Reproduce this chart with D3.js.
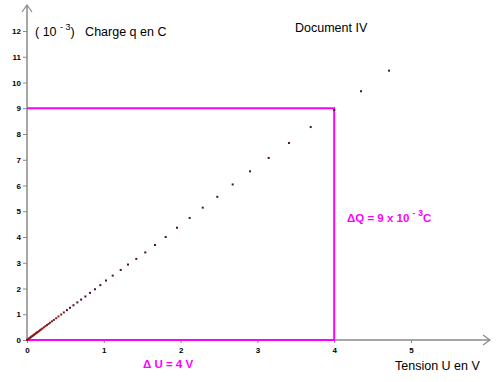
<!DOCTYPE html>
<html>
<head>
<meta charset="utf-8">
<script src="https://cdn.jsdelivr.net/npm/d3@7"></script>
<style>
  body { margin: 0; background: #fff; }
  svg { display: block; font-family: "Liberation Sans", Arial, sans-serif; }
  text { white-space: pre; }
  .tick text { font-size: 8px; font-weight: bold; fill: #000; }
</style>
</head>
<body>
<div id="vis"></div>
<script>
// measured points: tension U (V) and charge q (10^-3 C)
const tension = [0, 0.01, 0.02, 0.03, 0.04, 0.05, 0.06, 0.07, 0.08, 0.09, 0.10, 0.11, 0.12, 0.13, 0.14,
  0.155, 0.17, 0.185, 0.20, 0.22, 0.24, 0.26, 0.28, 0.30, 0.325, 0.35, 0.38, 0.41, 0.445, 0.48,
  0.52, 0.56, 0.605, 0.655, 0.705, 0.76, 0.82, 0.885, 0.955, 1.029, 1.116, 1.22, 1.315, 1.423,
  1.54, 1.667, 1.806, 1.953, 2.118, 2.288, 2.478, 2.678, 2.904, 3.147, 3.411, 3.694, 4.0, 4.349, 4.714]
const charge = [0, 0.02, 0.045, 0.07, 0.09, 0.11, 0.135, 0.155, 0.18, 0.2, 0.225, 0.245, 0.27, 0.29, 0.31,
  0.345, 0.38, 0.41, 0.445, 0.49, 0.535, 0.58, 0.625, 0.67, 0.725, 0.78, 0.845, 0.915, 0.99, 1.07,
  1.16, 1.25, 1.35, 1.46, 1.57, 1.69, 1.83, 1.97, 2.13, 2.31, 2.5, 2.72, 2.93, 3.15,
  3.4, 3.69, 4.0, 4.36, 4.74, 5.14, 5.56, 6.04, 6.55, 7.07, 7.65, 8.27, 8.93, 9.66, 10.46]
const xTicks = [0, 1, 2, 3, 4, 5]
const yTicks = [0, 1, 2, 3, 4, 5, 6, 7, 8, 9, 10, 11, 12]
const deltaU = 4
const deltaQ = 9

const width = 497, height = 382
const svg = d3.select('#vis').append('svg')
    .attr('width', width)
    .attr('height', height)

const xScale = d3.scaleLinear().domain([0, 5]).range([27, 411])
const yScale = d3.scaleLinear().domain([0, 12]).range([340, 31])

const axisColor = '#8a8a8a'
const magenta = '#ff00ff'

// x axis
const xAxis = svg.append('g')
    .attr('transform', `translate(0,${yScale(0)})`)
    .call(d3.axisBottom(xScale).tickValues(xTicks).tickSize(3).tickPadding(4).tickFormat(d3.format('d')))
xAxis.select('.domain').remove()
xAxis.selectAll('.tick line').attr('stroke', axisColor)
svg.append('line')
    .attr('x1', xScale(0)).attr('x2', 490)
    .attr('y1', yScale(0)).attr('y2', yScale(0))
    .attr('stroke', axisColor).attr('stroke-width', 1.5)
svg.append('path')
    .attr('d', `M483,335 L490,340 L483,345`)
    .attr('fill', 'none').attr('stroke', axisColor).attr('stroke-width', 1.2)

// y axis
const yAxis = svg.append('g')
    .attr('transform', `translate(${xScale(0)},0)`)
    .call(d3.axisLeft(yScale).tickValues(yTicks).tickSize(4).tickPadding(2).tickFormat(d3.format('d')))
yAxis.select('.domain').remove()
yAxis.selectAll('.tick line').attr('stroke', axisColor)
svg.append('line')
    .attr('x1', xScale(0)).attr('x2', xScale(0))
    .attr('y1', yScale(0)).attr('y2', 5)
    .attr('stroke', axisColor).attr('stroke-width', 1.5)
svg.append('path')
    .attr('d', `M22,12 L27,5 L32,12`)
    .attr('fill', 'none').attr('stroke', axisColor).attr('stroke-width', 1.2)

// magenta construction lines
svg.append('path')
    .attr('d', `M${xScale(0)},${yScale(deltaQ)} H${xScale(deltaU)} V${yScale(0)} H${xScale(0)}`)
    .attr('fill', 'none')
    .attr('stroke', magenta)
    .attr('stroke-width', 2)

// points
svg.selectAll('.pt')
    .data(tension.map((u, i) => ({u, q: charge[i]})))
    .join('rect')
    .attr('class', 'pt')
    .attr('x', d => xScale(d.u) - 1)
    .attr('y', d => yScale(d.q) - 1)
    .attr('width', 2)
    .attr('height', 2)
    .attr('fill', d => d.u < 0.5 ? '#8b1c1c' : '#4a1038')

// labels
const t1 = svg.append('text').attr('x', 35).attr('y', 36).style('font-size', '12.5px')
t1.append('tspan').text('( 10 ')
t1.append('tspan').attr('dy', -6).style('font-size', '9px').text('- 3')
t1.append('tspan').attr('dy', 6).text(')   Charge q en C')

svg.append('text').attr('x', 295).attr('y', 32).style('font-size', '12.5px').text('Document IV')

svg.append('text').attr('x', 395).attr('y', 370).style('font-size', '12.5px').text('Tension U en V')

const t2 = svg.append('text').attr('x', 347).attr('y', 222)
    .style('font-size', '11.5px').style('font-weight', 'bold').attr('fill', magenta)
t2.append('tspan').text('ΔQ = 9 x 10 ')
t2.append('tspan').attr('dy', -6).style('font-size', '9px').text('- 3')
t2.append('tspan').attr('dy', 6).text('C')

svg.append('text').attr('x', 143).attr('y', 368)
    .style('font-size', '11.5px').style('font-weight', 'bold').attr('fill', magenta).text('Δ U = 4 V')
</script>
</body>
</html>
